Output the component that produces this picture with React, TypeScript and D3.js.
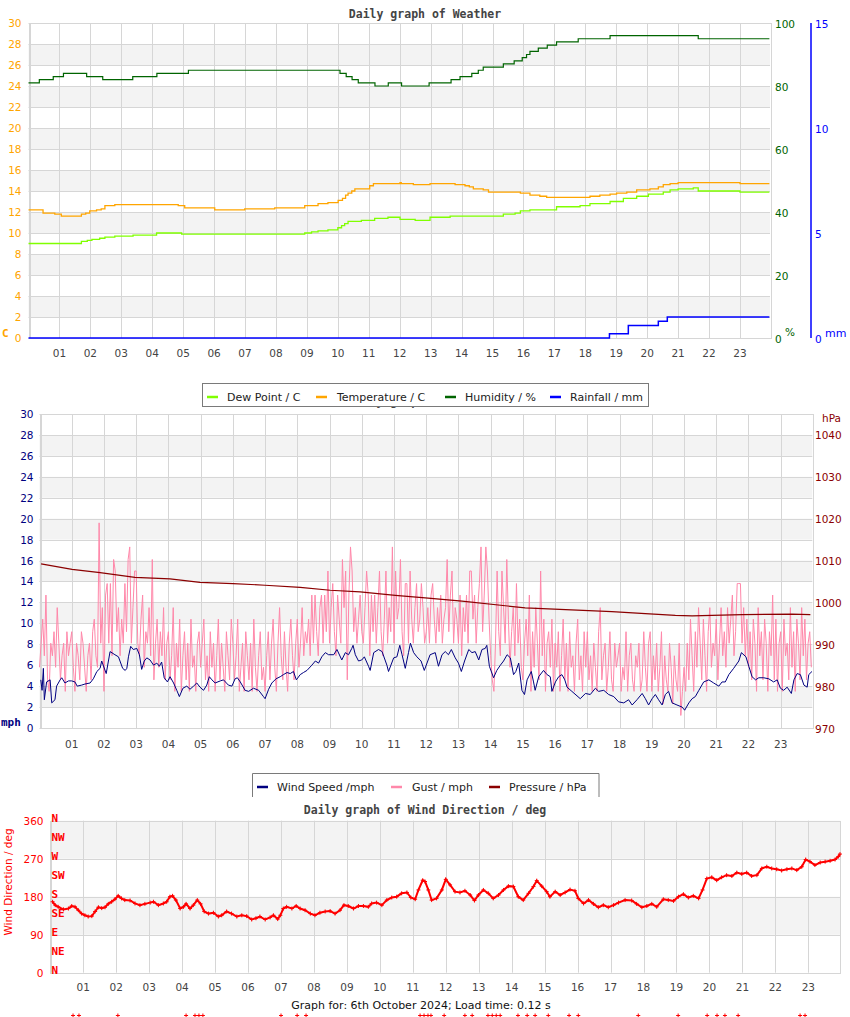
import React from 'react';
import * as d3 from 'd3';

type Pt = [number, number];

const hourLabels = ['01', '02', '03', '04', '05', '06', '07', '08', '09', '10', '11', '12', '13', '14', '15', '16', '17', '18', '19', '20', '21', '22', '23'];

// ---- weather chart: [hour of day, value] ----
const temperature: Pt[] = [
  [0, 12.2], [0.47, 11.9], [0.85, 11.8], [1.06, 11.6], [1.71, 11.8], [1.85, 11.9], [1.98, 12.1], [2.2, 12.2], [2.35, 12.3],
  [2.47, 12.6], [2.79, 12.7], [4.84, 12.6], [5.05, 12.4], [6.02, 12.2], [6.99, 12.3], [7.96, 12.4], [8.93, 12.6], [9.36, 12.8],
  [9.68, 12.9], [10.01, 13.1], [10.15, 13.3], [10.25, 13.6], [10.33, 13.8], [10.45, 14.0], [10.55, 14.2], [11.03, 14.5],
  [11.15, 14.7], [12.01, 14.8], [12.05, 14.7], [12.44, 14.6], [12.98, 14.7], [13.79, 14.6], [14.11, 14.5], [14.25, 14.4],
  [14.38, 14.2], [14.7, 14.1], [14.87, 13.9], [15.9, 13.8], [16.21, 13.6], [16.53, 13.5], [16.75, 13.4], [18.15, 13.5],
  [18.47, 13.6], [18.8, 13.7], [19.01, 13.8], [19.34, 13.9], [19.66, 14.1], [20.09, 14.2], [20.36, 14.4], [20.52, 14.6],
  [20.74, 14.7], [21.0, 14.8], [23.0, 14.7], [23.95, 14.7],
];
const dewPoint: Pt[] = [
  [0, 9.0], [1.71, 9.2], [1.9, 9.3], [2.05, 9.4], [2.3, 9.5], [2.47, 9.6], [2.79, 9.7], [3.38, 9.8], [4.14, 10.0], [4.95, 9.9],
  [8.93, 10.0], [9.15, 10.1], [9.36, 10.2], [9.68, 10.3], [10.0, 10.5], [10.12, 10.7], [10.22, 10.9], [10.33, 11.1],
  [10.76, 11.2], [11.19, 11.4], [11.62, 11.5], [12.01, 11.3], [12.5, 11.2], [12.98, 11.5], [13.63, 11.6], [15.35, 11.8],
  [15.73, 11.9], [15.9, 12.1], [16.21, 12.2], [17.07, 12.5], [17.83, 12.6], [18.15, 12.8], [18.8, 13.0], [19.23, 13.3],
  [19.66, 13.5], [20.04, 13.7], [20.52, 13.9], [20.74, 14.1], [21.0, 14.2], [21.49, 14.3], [21.65, 14.0], [23.0, 13.9],
  [23.95, 13.9],
];
const humidity: Pt[] = [
  [0, 81], [0.35, 82], [0.8, 83], [1.13, 84], [1.88, 83], [2.4, 82], [3.37, 83], [4.15, 84], [5.17, 85], [10.07, 84],
  [10.27, 83], [10.46, 82], [10.66, 81], [11.2, 80], [11.63, 81], [12.06, 80], [12.95, 81], [13.66, 82], [13.95, 83],
  [14.33, 84], [14.54, 85], [14.7, 86], [15.35, 87], [15.7, 88], [15.96, 89], [16.1, 90], [16.21, 91], [16.48, 92],
  [16.77, 93], [17.07, 94], [17.77, 95], [18.8, 96], [21.65, 95], [23.95, 95],
];
const rainfall: Pt[] = [[0, 0], [18.78, 0.2], [19.39, 0.6], [20.36, 0.8], [20.65, 1.0], [23.95, 1.0]];

const tempTicks = [0, 2, 4, 6, 8, 10, 12, 14, 16, 18, 20, 22, 24, 26, 28, 30];
const humidityTicks = [0, 20, 40, 60, 80, 100];
const rainTicks = [0, 5, 10, 15];

// ---- wind chart ----
const windSpeed: Pt[] = [
  [0.04, 4.6], [0.08, 3.6], [0.12, 5.7], [0.15, 2.7], [0.22, 4.4], [0.33, 4.6], [0.38, 2.4], [0.48, 2.7], [0.53, 4.0], [0.64, 4.6],
  [0.69, 4.8], [0.79, 4.3], [0.9, 4.5], [1.0, 4.5], [1.1, 4.4], [1.17, 4.0], [1.31, 4.1], [1.41, 4.2], [1.57, 4.3], [1.67, 4.7],
  [1.78, 5.4], [1.88, 5.7], [1.93, 6.4], [2.07, 5.2], [2.19, 7.3], [2.34, 7.0], [2.45, 6.8], [2.58, 5.7], [2.66, 5.5], [2.71, 5.7],
  [2.76, 6.8], [2.83, 7.8], [2.91, 7.5], [3.02, 7.6], [3.1, 7.0], [3.17, 5.6], [3.25, 6.4], [3.33, 6.7], [3.43, 6.5], [3.54, 6.0],
  [3.64, 6.2], [3.72, 5.9], [3.79, 6.3], [3.87, 4.8], [3.97, 4.4], [4.05, 4.9], [4.16, 4.3], [4.26, 3.6], [4.34, 3.0], [4.45, 3.8],
  [4.57, 4.0], [4.67, 3.7], [4.78, 4.0], [4.88, 4.3], [4.98, 3.9], [5.09, 3.6], [5.19, 4.1], [5.27, 4.9], [5.35, 4.6], [5.45, 4.3],
  [5.61, 4.5], [5.71, 4.6], [5.86, 4.1], [5.97, 4.0], [6.07, 4.7], [6.14, 4.8], [6.23, 4.4], [6.38, 3.6], [6.49, 3.5], [6.64, 3.8],
  [6.8, 3.6], [6.95, 3.0], [7.0, 2.8], [7.11, 3.7], [7.21, 4.3], [7.34, 4.7], [7.47, 4.9], [7.57, 5.1], [7.68, 5.3], [7.78, 5.2],
  [7.88, 5.4], [7.97, 4.6], [8.09, 5.1], [8.19, 5.3], [8.3, 5.5], [8.45, 6.0], [8.56, 6.4], [8.66, 6.2], [8.76, 6.8], [8.87, 7.2],
  [8.97, 7.0], [9.13, 7.0], [9.23, 7.5], [9.38, 6.5], [9.49, 7.2], [9.59, 7.0], [9.69, 7.6], [9.73, 7.9], [9.8, 7.0], [9.9, 6.4],
  [10.0, 6.5], [10.08, 6.8], [10.21, 5.9], [10.26, 5.5], [10.37, 7.2], [10.52, 7.5], [10.63, 7.3], [10.78, 6.0], [10.83, 5.4],
  [10.99, 6.7], [11.09, 6.8], [11.18, 7.9], [11.25, 7.0], [11.35, 5.7], [11.45, 7.2], [11.51, 8.1], [11.61, 7.2], [11.71, 6.8],
  [11.84, 6.4], [11.94, 5.5], [12.12, 7.0], [12.28, 7.2], [12.38, 5.9], [12.49, 7.0], [12.59, 7.3], [12.69, 7.0], [12.78, 7.5],
  [12.9, 6.7], [13.0, 6.2], [13.09, 5.4], [13.19, 6.4], [13.32, 7.5], [13.42, 7.2], [13.52, 7.3], [13.63, 6.5], [13.73, 7.5],
  [13.83, 7.6], [13.88, 7.9], [13.96, 5.9], [14.09, 4.8], [14.19, 5.5], [14.3, 6.0], [14.4, 6.4], [14.51, 7.0], [14.61, 6.7],
  [14.71, 5.1], [14.78, 5.4], [14.87, 6.2], [14.97, 3.6], [15.05, 3.2], [15.13, 4.6], [15.26, 5.4], [15.33, 4.4], [15.38, 3.6],
  [15.49, 4.9], [15.64, 5.5], [15.75, 5.1], [15.85, 4.9], [15.9, 3.5], [16.01, 4.4], [16.11, 4.9], [16.21, 5.1], [16.3, 4.6],
  [16.37, 3.9], [16.52, 3.5], [16.78, 2.8], [16.94, 3.3], [17.09, 3.2], [17.25, 3.8], [17.35, 3.5], [17.51, 3.6], [17.66, 3.2],
  [17.82, 3.0], [17.97, 2.5], [18.13, 2.4], [18.28, 2.7], [18.39, 2.2], [18.54, 2.7], [18.7, 3.3], [18.8, 2.8], [18.9, 2.2],
  [19.01, 2.8], [19.11, 3.2], [19.21, 2.7], [19.32, 2.2], [19.42, 3.2], [19.52, 3.5], [19.63, 2.4], [19.78, 2.2], [19.94, 2.0],
  [20.02, 1.7], [20.15, 2.4], [20.25, 2.8], [20.35, 3.0], [20.46, 3.6], [20.61, 4.4], [20.77, 4.6], [20.92, 4.3], [21.08, 4.0],
  [21.18, 4.4], [21.28, 4.4], [21.39, 5.1], [21.54, 5.7], [21.7, 6.4], [21.78, 7.2], [21.92, 6.8], [22.01, 5.9], [22.11, 4.9],
  [22.22, 4.6], [22.32, 4.8], [22.47, 4.8], [22.63, 4.7], [22.78, 4.4], [22.89, 4.6], [22.99, 3.8], [23.09, 3.6], [23.2, 3.9],
  [23.33, 3.3], [23.41, 4.6], [23.51, 5.2], [23.61, 5.1], [23.72, 4.1], [23.82, 3.9], [23.87, 5.1], [23.97, 5.4],
];
// gust readings every 3 minutes from midnight (one row per hour)
const gustStep = 0.05;
const gust = [
  5.8, 8.1, 10.4, 6.9, 12.7, 4.6, 3.5, 8.1, 6.9, 9.2, 5.8, 11.5, 8.1, 4.6, 6.9, 8.1, 3.5, 9.2, 6.9, 8.1,
  9.2, 5.8, 3.5, 8.1, 6.9, 4.6, 9.2, 8.1, 5.8, 3.5, 6.9, 8.1, 4.6, 9.2, 10.4, 6.9, 5.8, 19.6, 8.1, 11.5,
  3.5, 12.7, 13.8, 8.1, 13.8, 6.9, 16.1, 15.0, 9.2, 11.5, 6.9, 10.4, 8.1, 13.8, 9.2, 16.1, 17.3, 8.1, 11.5, 15.0,
  15.0, 8.1, 6.9, 10.4, 12.7, 5.8, 9.2, 8.1, 11.5, 6.9, 16.1, 4.6, 8.1, 10.4, 5.8, 9.2, 6.9, 11.5, 4.6, 8.1,
  9.2, 4.6, 6.9, 11.5, 3.5, 8.1, 5.8, 10.4, 3.5, 6.9, 9.2, 4.6, 8.1, 3.5, 10.4, 5.8, 6.9, 3.5, 8.1, 9.2,
  5.8, 8.1, 10.4, 4.6, 6.9, 3.5, 9.2, 5.8, 8.1, 3.5, 6.9, 10.4, 4.6, 8.1, 5.8, 3.5, 9.2, 6.9, 4.6, 10.4,
  8.1, 4.6, 6.9, 10.4, 3.5, 5.8, 8.1, 3.5, 9.2, 6.9, 4.6, 8.1, 3.5, 10.4, 5.8, 3.5, 6.9, 9.2, 4.6, 5.8,
  3.5, 6.9, 9.2, 4.6, 8.1, 10.4, 5.8, 3.5, 8.1, 11.5, 6.9, 4.6, 9.2, 5.8, 3.5, 8.1, 10.4, 6.9, 4.6, 8.1,
  10.4, 5.8, 8.1, 11.5, 6.9, 9.2, 8.1, 10.4, 6.9, 12.7, 8.1, 12.7, 9.2, 6.9, 11.5, 12.7, 8.1, 12.7, 9.2, 15.0,
  8.1, 11.5, 13.8, 9.2, 6.9, 12.7, 10.4, 8.1, 16.1, 11.5, 15.0, 4.6, 12.7, 17.3, 15.0, 9.2, 11.5, 8.1, 10.4, 12.7,
  9.2, 8.1, 11.5, 15.0, 12.7, 6.9, 12.7, 9.2, 12.7, 8.1, 11.5, 15.0, 9.2, 6.9, 10.4, 15.0, 8.1, 11.5, 9.2, 17.3,
  8.1, 15.0, 10.4, 11.5, 16.1, 9.2, 6.9, 13.8, 13.8, 8.1, 15.0, 10.4, 8.1, 11.5, 13.8, 9.2, 10.4, 13.8, 11.5, 8.1,
  9.2, 11.5, 8.1, 12.7, 13.8, 10.4, 8.1, 11.5, 9.2, 12.7, 8.1, 10.4, 11.5, 16.1, 9.2, 12.7, 15.0, 8.1, 11.5, 10.4,
  8.1, 12.7, 6.9, 11.5, 9.2, 12.7, 8.1, 15.0, 15.0, 10.4, 12.7, 8.1, 11.5, 13.8, 17.3, 9.2, 12.7, 17.3, 15.0, 10.4,
  6.9, 4.6, 3.5, 8.1, 15.0, 9.2, 6.9, 15.0, 11.5, 8.1, 16.1, 10.4, 5.8, 9.2, 11.5, 6.9, 13.8, 8.1, 10.4, 5.8,
  4.6, 8.1, 10.4, 6.9, 12.7, 3.5, 9.2, 5.8, 11.5, 8.1, 4.6, 15.0, 6.9, 10.4, 3.5, 8.1, 9.2, 5.8, 10.4, 3.5,
  8.1, 5.8, 9.2, 3.5, 6.9, 10.4, 4.6, 8.1, 3.5, 9.2, 5.8, 6.9, 3.5, 8.1, 10.4, 4.6, 6.9, 3.5, 9.2, 5.8,
  9.2, 4.6, 6.9, 3.5, 8.1, 5.8, 3.5, 9.2, 11.5, 4.6, 6.9, 8.1, 3.5, 5.8, 9.2, 4.6, 3.5, 8.1, 5.8, 6.9,
  8.1, 3.5, 5.8, 4.6, 9.2, 3.5, 6.9, 8.1, 4.6, 3.5, 6.9, 5.8, 8.1, 3.5, 4.6, 9.2, 5.8, 3.5, 8.1, 9.2,
  3.5, 6.9, 4.6, 8.1, 3.5, 5.8, 9.2, 2.3, 6.9, 4.6, 3.5, 8.1, 5.8, 2.3, 6.9, 4.6, 3.5, 8.1, 1.2, 3.5,
  5.8, 3.5, 8.1, 4.6, 10.4, 6.9, 3.5, 9.2, 5.8, 11.5, 8.1, 4.6, 10.4, 6.9, 3.5, 9.2, 11.5, 5.8, 8.1, 6.9,
  10.4, 4.6, 8.1, 11.5, 6.9, 9.2, 5.8, 11.5, 8.1, 10.4, 12.7, 6.9, 9.2, 13.8, 13.8, 13.8, 8.1, 11.5, 6.9, 10.4,
  5.8, 9.2, 4.6, 10.4, 8.1, 3.5, 11.5, 6.9, 9.2, 4.6, 10.4, 8.1, 3.5, 9.2, 6.9, 12.7, 4.6, 10.4, 3.5, 8.1,
  9.2, 3.5, 10.4, 6.9, 8.1, 4.6, 11.5, 5.8, 9.2, 3.5, 10.4, 8.1, 4.6, 11.5, 6.9, 10.4, 4.6, 8.1, 9.2, 5.8,
];
const pressure: Pt[] = [
  [0.05, 1009.2], [1.01, 1007.9], [1.88, 1007.1], [2.96, 1006.0], [4.05, 1005.6], [4.98, 1004.8], [6.01, 1004.5], [7.0, 1004.1],
  [8.09, 1003.6], [9.02, 1002.9], [9.95, 1002.5], [11.04, 1001.7], [11.97, 1001.1], [13.11, 1000.3], [15.07, 998.7],
  [17.76, 997.8], [18.8, 997.3], [19.73, 996.9], [20.25, 996.8], [21.8, 997.1], [23.35, 997.2], [23.92, 997.1],
];
const speedTicks = [0, 2, 4, 6, 8, 10, 12, 14, 16, 18, 20, 22, 24, 26, 28, 30];
const pressureTicks = [970, 980, 990, 1000, 1010, 1020, 1030, 1040];

// ---- wind direction chart ----
const windDir: Pt[] = [
  [0.07, 168], [0.15, 160], [0.24, 156], [0.4, 150], [0.55, 152], [0.65, 158], [0.75, 156], [0.85, 148], [0.95, 140], [1.05, 136],
  [1.15, 133], [1.26, 134], [1.36, 145], [1.46, 155], [1.56, 153], [1.66, 155], [1.76, 163], [1.86, 168], [1.96, 174], [2.06, 182],
  [2.16, 176], [2.26, 172], [2.42, 171], [2.57, 164], [2.72, 160], [2.87, 163], [3.03, 166], [3.13, 168], [3.28, 160], [3.43, 164],
  [3.53, 168], [3.63, 180], [3.71, 182], [3.81, 172], [3.94, 152], [4.04, 156], [4.12, 163], [4.24, 152], [4.34, 160], [4.46, 172],
  [4.56, 163], [4.67, 145], [4.8, 140], [4.95, 142], [5.1, 133], [5.2, 136], [5.35, 145], [5.5, 140], [5.66, 133], [5.81, 136],
  [5.96, 134], [6.11, 126], [6.24, 129], [6.36, 133], [6.52, 126], [6.67, 131], [6.77, 136], [6.9, 127], [6.98, 136], [7.07, 152],
  [7.17, 156], [7.33, 152], [7.46, 158], [7.58, 152], [7.73, 148], [7.89, 140], [8.03, 136], [8.18, 142], [8.34, 145], [8.49, 146],
  [8.64, 140], [8.79, 148], [8.91, 160], [9.04, 158], [9.2, 152], [9.35, 158], [9.5, 158], [9.65, 156], [9.75, 164], [9.9, 166],
  [10.06, 160], [10.21, 172], [10.36, 178], [10.51, 180], [10.66, 188], [10.82, 190], [10.94, 178], [11.07, 174], [11.17, 196],
  [11.3, 219], [11.37, 216], [11.47, 196], [11.57, 172], [11.72, 176], [11.88, 196], [12.0, 221], [12.13, 208], [12.28, 192],
  [12.43, 190], [12.58, 194], [12.74, 184], [12.87, 171], [12.99, 184], [13.14, 196], [13.29, 188], [13.44, 176], [13.6, 184],
  [13.75, 196], [13.9, 205], [14.05, 204], [14.2, 180], [14.35, 172], [14.51, 188], [14.66, 204], [14.76, 218], [14.91, 205],
  [15.06, 192], [15.16, 180], [15.32, 192], [15.47, 184], [15.62, 190], [15.77, 197], [15.92, 194], [16.02, 176], [16.18, 164],
  [16.33, 172], [16.48, 163], [16.63, 155], [16.78, 160], [16.93, 155], [17.09, 160], [17.24, 166], [17.44, 172], [17.64, 171],
  [17.79, 163], [17.95, 155], [18.1, 158], [18.25, 163], [18.4, 156], [18.6, 174], [18.75, 172], [18.91, 170], [19.06, 180],
  [19.21, 186], [19.36, 178], [19.51, 182], [19.67, 176], [19.79, 196], [19.92, 223], [20.07, 226], [20.22, 219], [20.37, 226],
  [20.52, 231], [20.68, 229], [20.83, 237], [20.98, 234], [21.13, 237], [21.28, 229], [21.44, 231], [21.59, 247], [21.74, 251],
  [21.89, 247], [22.04, 245], [22.19, 242], [22.35, 245], [22.5, 247], [22.65, 243], [22.8, 251], [22.92, 268], [23.05, 263],
  [23.2, 255], [23.36, 261], [23.51, 263], [23.66, 265], [23.81, 268], [23.91, 275], [23.96, 281],
];
// readings with no usable direction
const noDirHours = [
  0.69, 0.87, 2.05, 4.12, 4.39, 4.51, 4.63, 7.0, 7.49, 7.76, 11.22, 11.34, 11.46, 11.55, 11.95, 12.58, 12.8, 13.28, 13.41,
  13.53, 13.65, 14.19, 14.47, 14.71, 15.11, 15.74, 16.02, 17.84, 19.05, 19.93, 20.23, 20.47, 20.87, 22.75, 22.9,
];
const dirTicks = [0, 90, 180, 270, 360];
const compass = ['N', 'NE', 'E', 'SE', 'S', 'SW', 'W', 'NW', 'N'];

const SANS = "'DejaVu Sans', sans-serif";
const MONO = "'DejaVu Sans Mono', monospace";
const GRID = '#d6d6d6';
const BAND = '#f3f3f3';
const TICK = '#444';

const C_DEW = '#80ff00';
const C_TEMP = '#ffa500';
const C_HUM = '#006400';
const C_RAIN = '#0000ff';
const C_WIND = '#000080';
const C_GUST = '#ff88aa';
const C_PRES = '#8b0000';
const C_DIR = '#ff0000';

type Lin = d3.ScaleLinear<number, number>;
const px = (v: number) => Math.round(v) + 0.5;

function Frame({ x, y, grid, bands }: { x: Lin; y: Lin; grid: number[]; bands: number[][] }) {
  const [l, r] = x.range();
  const [b, t] = y.range();
  return (
    <g>
      {bands.map(([lo, hi]) => (
        <rect key={'b' + lo} x={l} y={y(hi)} width={r - l} height={y(lo) - y(hi)} fill={BAND} />
      ))}
      {grid.map((v) => (
        <line key={'g' + v} x1={l} x2={r} y1={px(y(v))} y2={px(y(v))} stroke={GRID} />
      ))}
      {hourLabels.map((s, i) => (
        <line key={'v' + s} x1={px(x(i + 1))} x2={px(x(i + 1))} y1={t} y2={b} stroke={GRID} />
      ))}
      <rect x={px(l)} y={px(t)} width={Math.round(r - l)} height={Math.round(b - t)} fill="none" stroke={GRID} />
      <line x1={Math.round(l) + 1.5} x2={Math.round(l) + 1.5} y1={t} y2={b} stroke={GRID} />
    </g>
  );
}

function HourLabels({ x, y }: { x: Lin; y: number }) {
  return (
    <g fontFamily={SANS} fontSize={10.5} fill={TICK} textAnchor="middle">
      {hourLabels.map((s, i) => (
        <text key={s} x={x(i + 1)} y={y}>{s}</text>
      ))}
    </g>
  );
}

function Title({ text, y, clip }: { text: string; y: number; clip?: string }) {
  return (
    <text x={425} y={y} textAnchor="middle" fontFamily={MONO} fontWeight="bold" fontSize={11.5} fill="#444" clipPath={clip}>
      {text}
    </text>
  );
}

function Legend({ x, y, w, items, open }: { x: number; y: number; w: number; items: [number, number, string, string][]; open?: boolean }) {
  return (
    <g>
      {open ? (
        <path d={`M${x},${y + 24}V${y}H${x + w}V${y + 24}`} fill="#fff" stroke="#7a7a7a" />
      ) : (
        <rect x={x} y={y} width={w} height={23} fill="#fff" stroke="#7a7a7a" />
      )}
      {items.map(([sx, tx, label, color]) => (
        <g key={label}>
          <line x1={sx} x2={sx + 11} y1={y + 13.5} y2={y + 13.5} stroke={color} strokeWidth={2.5} />
          <text x={tx} y={y + 17} fontFamily={SANS} fontSize={11} fill="#222">{label}</text>
        </g>
      ))}
    </g>
  );
}

function WeatherChart() {
  const x = d3.scaleLinear().domain([0, 23.97]).range([28.5, 770]);
  const yT = d3.scaleLinear().domain([0, 30]).range([338, 23]);
  const yH = d3.scaleLinear().domain([0, 100]).range([338, 23]);
  const yR = d3.scaleLinear().domain([0, 15]).range([338, 23]);
  const step = (ys: Lin) => d3.line<Pt>().x((d) => x(d[0])).y((d) => ys(d[1])).curve(d3.curveStepAfter);
  const bands = tempTicks.filter((v) => v % 4 === 2 && v < 30).map((v) => [v, v + 2]);
  return (
    <g>
      <Title text="Daily graph of Weather" y={17.5} />
      <Frame x={x} y={yT} grid={tempTicks} bands={bands} />
      <path d={step(yT)(dewPoint) || ''} fill="none" stroke={C_DEW} strokeWidth={1.3} />
      <path d={step(yT)(temperature) || ''} fill="none" stroke={C_TEMP} strokeWidth={1.3} />
      <path d={step(yH)(humidity) || ''} fill="none" stroke={C_HUM} strokeWidth={1.2} />
      <path d={step(yR)(rainfall) || ''} fill="none" stroke={C_RAIN} strokeWidth={1.5} />
      <g fontFamily={SANS} fontSize={10.5} fill={C_TEMP} textAnchor="end">
        {tempTicks.map((v) => (
          <text key={v} x={21.5} y={yT(v) + 4}>{v}</text>
        ))}
      </g>
      <text x={2} y={337} fontFamily={MONO} fontWeight="bold" fontSize={11} fill={C_TEMP}>C</text>
      <g fontFamily={SANS} fontSize={10.5} fill={C_HUM}>
        {humidityTicks.map((v) => (
          <text key={v} x={775} y={yH(v) + 4.5}>{v}</text>
        ))}
        <text x={785} y={336}>%</text>
      </g>
      <line x1={811} x2={811} y1={23} y2={338} stroke={C_RAIN} strokeWidth={1.5} />
      <g fontFamily={SANS} fontSize={10.5} fill={C_RAIN}>
        {rainTicks.map((v) => (
          <text key={v} x={815} y={yR(v) + 4.5}>{v}</text>
        ))}
        <text x={825} y={337} fontSize={11}>mm</text>
      </g>
      <HourLabels x={x} y={357} />
    </g>
  );
}

function WindChart() {
  const x = d3.scaleLinear().domain([0, 23.98]).range([39.5, 812.3]);
  const yS = d3.scaleLinear().domain([0, 30]).range([728, 414]);
  const yP = d3.scaleLinear().domain([970, 1045]).range([728, 414]);
  const bands = speedTicks.filter((v) => v % 4 === 2 && v < 30).map((v) => [v, v + 2]);
  const line = (ys: Lin) => d3.line<Pt>().x((d) => x(d[0])).y((d) => ys(d[1]));
  const gustPts: Pt[] = gust.map((v, i) => [i * gustStep, v]);
  return (
    <g>
      <defs>
        <clipPath id="underLegend">
          <rect x={0} y={406.5} width={850} height={8} />
        </clipPath>
      </defs>
      <Title text="Daily graph of Weather" y={405} clip="url(#underLegend)" />
      <Frame x={x} y={yS} grid={speedTicks} bands={bands} />
      <path d={line(yS)(gustPts) || ''} fill="none" stroke={C_GUST} strokeWidth={1} />
      <path d={line(yP)(pressure) || ''} fill="none" stroke={C_PRES} strokeWidth={1.2} />
      <path d={line(yS)(windSpeed) || ''} fill="none" stroke={C_WIND} strokeWidth={1} />
      <g fontFamily={SANS} fontSize={10.5} fill={C_WIND} textAnchor="end">
        {speedTicks.map((v) => (
          <text key={v} x={33.5} y={yS(v) + 4}>{v}</text>
        ))}
      </g>
      <text x={1} y={726} fontFamily={MONO} fontWeight="bold" fontSize={11} fill={C_WIND}>mph</text>
      <g fontFamily={SANS} fontSize={10.5} fill={C_PRES}>
        {pressureTicks.map((v) => (
          <text key={v} x={815} y={yP(v) + 4.5}>{v}</text>
        ))}
        <text x={822} y={422}>hPa</text>
      </g>
      <HourLabels x={x} y={747.5} />
    </g>
  );
}

function DirectionChart() {
  const x = d3.scaleLinear().domain([0, 23.97]).range([50.3, 840.3]);
  const y = d3.scaleLinear().domain([0, 360]).range([972.7, 820.7]);
  const cross = windDir.map(([h, d]) => `M${x(h) - 2},${y(d)}h4M${x(h)},${y(d) - 2}v4`).join('');
  const calm = noDirHours.map((h) => `M${x(h) - 2},1015.5h4M${x(h)},1013.5v4`).join('');
  const line = d3.line<Pt>().x((d) => x(d[0])).y((d) => y(d[1]));
  return (
    <g>
      <rect x={0} y={797} width={850} height={220} fill="#fff" />
      <Title text="Daily graph of Wind Direction / deg" y={813.5} />
      <Frame x={x} y={y} grid={dirTicks} bands={[[90, 180], [270, 360]]} />
      <path d={line(windDir) || ''} fill="none" stroke={C_DIR} strokeWidth={2} />
      <path d={cross} fill="none" stroke={C_DIR} strokeWidth={1} />
      <g fontFamily={SANS} fontSize={10.5} fill={C_DIR} textAnchor="end">
        {dirTicks.map((v) => (
          <text key={v} x={43.5} y={y(v) + 4}>{v}</text>
        ))}
      </g>
      <g fontFamily={MONO} fontWeight="bold" fontSize={11} fill={C_DIR}>
        {compass.map((c, i) => (
          <text key={i} x={51.5} y={y(i * 45) + 1.5}>{c}</text>
        ))}
      </g>
      <text transform="translate(12,882) rotate(-90)" textAnchor="middle" fontFamily={SANS} fontSize={10.5} fill={C_DIR}>
        Wind Direction / deg
      </text>
      <HourLabels x={x} y={990.5} />
      <text x={421} y={1008.5} textAnchor="middle" fontFamily={SANS} fontSize={11} fill="#111">
        Graph for: 6th October 2024; Load time: 0.12 s
      </text>
      <path d={calm} fill="none" stroke={C_DIR} strokeWidth={1} />
    </g>
  );
}

export default function App() {
  return (
    <div style={{ position: 'absolute', left: 0, top: 0 }}>
      <style>{'body{margin:0}'}</style>
      <svg width={850} height={1017} style={{ display: 'block', background: '#fff' }}>
        <WeatherChart />
        <WindChart />
        <Legend
          x={202.5}
          y={383.5}
          w={446}
          items={[
            [207, 227, 'Dew Point / C', C_DEW],
            [316, 337, 'Temperature / C', C_TEMP],
            [445, 465, 'Humidity / %', C_HUM],
            [550, 570, 'Rainfall / mm', C_RAIN],
          ]}
        />
        <Legend
          x={252.5}
          y={773.5}
          w={346.5}
          open
          items={[
            [257, 277, 'Wind Speed /mph', C_WIND],
            [391, 412, 'Gust / mph', C_GUST],
            [489, 509, 'Pressure / hPa', C_PRES],
          ]}
        />
        <DirectionChart />
      </svg>
    </div>
  );
}
